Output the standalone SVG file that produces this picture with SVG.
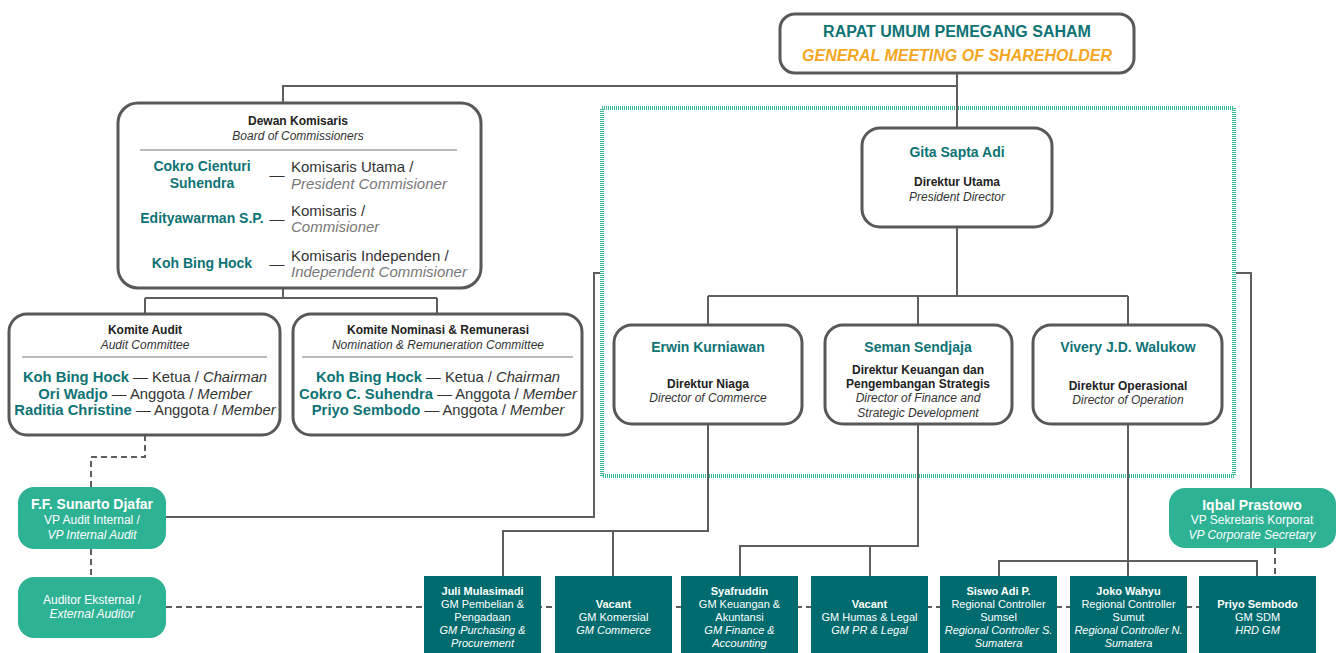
<svg xmlns="http://www.w3.org/2000/svg" width="1338" height="653" viewBox="0 0 1338 653">
<style>
text{font-family:"Liberation Sans",Arial,sans-serif;dominant-baseline:central;text-anchor:middle}
text.st{text-anchor:start}
.box{fill:#fff;stroke:#585858;stroke-width:3}
.gbox{fill:#2db294}
.dbox{fill:#006b6e}
.ln{fill:none;stroke:#5e5e5e;stroke-width:2}
.dash{fill:none;stroke:#5e5e5e;stroke-width:2;stroke-dasharray:6 4}
.sep{stroke:#777;stroke-width:1}
.nm{font-weight:bold;fill:#0e7375;font-size:14px}
.hd{font-weight:bold;fill:#222;font-size:12px}
.it{font-style:italic;fill:#333;font-size:12px}
.rl{fill:#333;font-size:15px}
.rli{fill:#777;font-size:15px;font-style:italic}
.cm{font-size:14.8px;fill:#333}
.cmn{font-weight:bold;fill:#0e7375}
.w{fill:#fff;font-size:11px}
.wb{fill:#fff;font-size:11px;font-weight:bold}
.wi{fill:#fff;font-size:11px;font-style:italic}
.g1{fill:#fff;font-size:14px;font-weight:bold}
.g2{fill:#fff;font-size:12px}
.g3{fill:#fff;font-size:12px;font-style:italic}
</style>
<rect id="directors-frame" x="602" y="108" width="632" height="368" fill="none" stroke="#38b995" stroke-width="4" stroke-dasharray="1 1"/>
<g id="connectors">
<path class="ln" d="M957,73 V128 M957,86 H283 V103"/>
<path class="ln" d="M283,288 V298 M145,298 H437 M145,298 V314 M437,298 V314"/>
<path class="ln" d="M957,227 V296 M708,296 H1128 M708,296 V325 M918,296 V325 M1128,296 V325"/>
<path class="ln" d="M600,273 H594 V517 H166"/>
<path class="ln" d="M1236,273 H1251 V488"/>
<path class="ln" d="M708,424 V531 H503 V576 M613,531 V576"/>
<path class="ln" d="M918,424 V546 H740 V576 M870,546 V576"/>
<path class="ln" d="M1128,424 V576 M999,576 V561 H1257 V576"/>
<path class="dash" d="M1275,548 V576"/>
<path class="dash" d="M145,435 V457 H91 V487 M91,549 V577"/>
<path class="dash" d="M166,607 H1199"/>
</g>
<g id="rups">
<rect class="box" x="780" y="14" width="354" height="59" rx="15"/>
<text x="957" y="31" font-size="16" font-weight="bold" fill="#0e7375">RAPAT UMUM PEMEGANG SAHAM</text>
<text x="957" y="55" font-size="16" font-weight="bold" font-style="italic" fill="#f5a623">GENERAL MEETING OF SHAREHOLDER</text>
</g>
<g id="board">
<rect class="box" x="118" y="103" width="363" height="185" rx="20"/>
<text class="hd" x="298" y="121">Dewan Komisaris</text>
<text class="it" x="298" y="136">Board of Commissioners</text>
<line class="sep" x1="140" y1="150" x2="457" y2="150"/>
<text class="nm" x="202" y="166">Cokro Cienturi</text>
<text class="nm" x="202" y="183">Suhendra</text>
<text class="rl" x="277" y="174">—</text>
<text class="rl st" x="291" y="166">Komisaris Utama /</text>
<text class="rli st" x="291" y="183">President Commisioner</text>
<text class="nm" x="202" y="218">Edityawarman S.P.</text>
<text class="rl" x="277" y="218">—</text>
<text class="rl st" x="291" y="210">Komisaris /</text>
<text class="rli st" x="291" y="226">Commisioner</text>
<text class="nm" x="202" y="263">Koh Bing Hock</text>
<text class="rl" x="277" y="263">—</text>
<text class="rl st" x="291" y="255">Komisaris Independen /</text>
<text class="rli st" x="291" y="271">Independent Commisioner</text>
</g>
<g id="audit-committee">
<rect class="box" x="9" y="314" width="271" height="121" rx="18"/>
<text class="hd" x="145" y="330">Komite Audit</text>
<text class="it" x="145" y="345">Audit Committee</text>
<line class="sep" x1="22" y1="357" x2="267" y2="357"/>
<text class="cm" x="145" y="377"><tspan class="cmn">Koh Bing Hock</tspan> — Ketua / <tspan font-style="italic">Chairman</tspan></text>
<text class="cm" x="145" y="394"><tspan class="cmn">Ori Wadjo</tspan> — Anggota / <tspan font-style="italic">Member</tspan></text>
<text class="cm" x="145" y="410"><tspan class="cmn">Raditia Christine</tspan> — Anggota / <tspan font-style="italic">Member</tspan></text>
</g>
<g id="nomination-committee">
<rect class="box" x="293" y="314" width="289" height="121" rx="18"/>
<text class="hd" x="438" y="330">Komite Nominasi &amp; Remunerasi</text>
<text class="it" x="438" y="345">Nomination &amp; Remuneration Committee</text>
<line class="sep" x1="302" y1="357" x2="573" y2="357"/>
<text class="cm" x="438" y="377"><tspan class="cmn">Koh Bing Hock</tspan> — Ketua / <tspan font-style="italic">Chairman</tspan></text>
<text class="cm" x="438" y="394"><tspan class="cmn">Cokro C. Suhendra</tspan> — Anggota / <tspan font-style="italic">Member</tspan></text>
<text class="cm" x="438" y="410"><tspan class="cmn">Priyo Sembodo</tspan> — Anggota / <tspan font-style="italic">Member</tspan></text>
</g>
<g id="president-director">
<rect class="box" x="862" y="128" width="190" height="99" rx="18"/>
<text class="nm" x="957" y="152">Gita Sapta Adi</text>
<text class="hd" x="957" y="182">Direktur Utama</text>
<text class="it" x="957" y="197">President Director</text>
</g>
<g id="director-commerce">
<rect class="box" x="614" y="325" width="188" height="99" rx="18"/>
<text class="nm" x="708" y="347">Erwin Kurniawan</text>
<text class="hd" x="708" y="384">Direktur Niaga</text>
<text class="it" x="708" y="398">Director of Commerce</text>
</g>
<g id="director-finance">
<rect class="box" x="825" y="325" width="187" height="99" rx="18"/>
<text class="nm" x="918" y="347">Seman Sendjaja</text>
<text class="hd" x="918" y="370">Direktur Keuangan dan</text>
<text class="hd" x="918" y="384">Pengembangan Strategis</text>
<text class="it" x="918" y="398">Director of Finance and</text>
<text class="it" x="918" y="413">Strategic Development</text>
</g>
<g id="director-operation">
<rect class="box" x="1033" y="325" width="189" height="99" rx="18"/>
<text class="nm" x="1128" y="347">Vivery J.D. Walukow</text>
<text class="hd" x="1128" y="386">Direktur Operasional</text>
<text class="it" x="1128" y="400">Director of Operation</text>
</g>
<g id="internal-audit">
<rect class="gbox" x="18" y="487" width="148" height="62" rx="16"/>
<text class="g1" x="92" y="504">F.F. Sunarto Djafar</text>
<text class="g2" x="92" y="520">VP Audit Internal /</text>
<text class="g3" x="92" y="535">VP Internal Audit</text>
</g>
<g id="external-auditor">
<rect class="gbox" x="18" y="577" width="148" height="61" rx="16"/>
<text class="g2" x="92" y="600">Auditor Eksternal /</text>
<text class="g3" x="92" y="614">External Auditor</text>
</g>
<g id="corporate-secretary">
<rect class="gbox" x="1169" y="488" width="167" height="60" rx="16"/>
<text class="g1" x="1252" y="505">Iqbal Prastowo</text>
<text class="g2" x="1252" y="520">VP Sekretaris Korporat</text>
<text class="g3" x="1252" y="535">VP Corporate Secretary</text>
</g>
<g id="gm-purchasing">
<rect class="dbox" x="424" y="576" width="117" height="80"/>
<text class="wb" x="482.5" y="591">Juli Mulasimadi</text>
<text class="w" x="482.5" y="604">GM Pembelian &amp;</text>
<text class="w" x="482.5" y="617">Pengadaan</text>
<text class="wi" x="482.5" y="630">GM Purchasing &amp;</text>
<text class="wi" x="482.5" y="643">Procurement</text>
</g>
<g id="gm-commerce">
<rect class="dbox" x="555" y="576" width="117" height="80"/>
<text class="wb" x="613.5" y="604">Vacant</text>
<text class="w" x="613.5" y="617">GM Komersial</text>
<text class="wi" x="613.5" y="630">GM Commerce</text>
</g>
<g id="gm-finance">
<rect class="dbox" x="681" y="576" width="117" height="80"/>
<text class="wb" x="739.5" y="591">Syafruddin</text>
<text class="w" x="739.5" y="604">GM Keuangan &amp;</text>
<text class="w" x="739.5" y="617">Akuntansi</text>
<text class="wi" x="739.5" y="630">GM Finance &amp;</text>
<text class="wi" x="739.5" y="643">Accounting</text>
</g>
<g id="gm-pr-legal">
<rect class="dbox" x="811" y="576" width="117" height="80"/>
<text class="wb" x="869.5" y="604">Vacant</text>
<text class="w" x="869.5" y="617">GM Humas &amp; Legal</text>
<text class="wi" x="869.5" y="630">GM PR &amp; Legal</text>
</g>
<g id="rc-sumsel">
<rect class="dbox" x="940" y="576" width="117" height="80"/>
<text class="wb" x="998.5" y="591">Siswo Adi P.</text>
<text class="w" x="998.5" y="604">Regional Controller</text>
<text class="w" x="998.5" y="617">Sumsel</text>
<text class="wi" x="998.5" y="630">Regional Controller S.</text>
<text class="wi" x="998.5" y="643">Sumatera</text>
</g>
<g id="rc-sumut">
<rect class="dbox" x="1070" y="576" width="117" height="80"/>
<text class="wb" x="1128.5" y="591">Joko Wahyu</text>
<text class="w" x="1128.5" y="604">Regional Controller</text>
<text class="w" x="1128.5" y="617">Sumut</text>
<text class="wi" x="1128.5" y="630">Regional Controller N.</text>
<text class="wi" x="1128.5" y="643">Sumatera</text>
</g>
<g id="gm-hrd">
<rect class="dbox" x="1199" y="576" width="117" height="80"/>
<text class="wb" x="1257.5" y="604">Priyo Sembodo</text>
<text class="w" x="1257.5" y="617">GM SDM</text>
<text class="wi" x="1257.5" y="630">HRD GM</text>
</g>
</svg>
